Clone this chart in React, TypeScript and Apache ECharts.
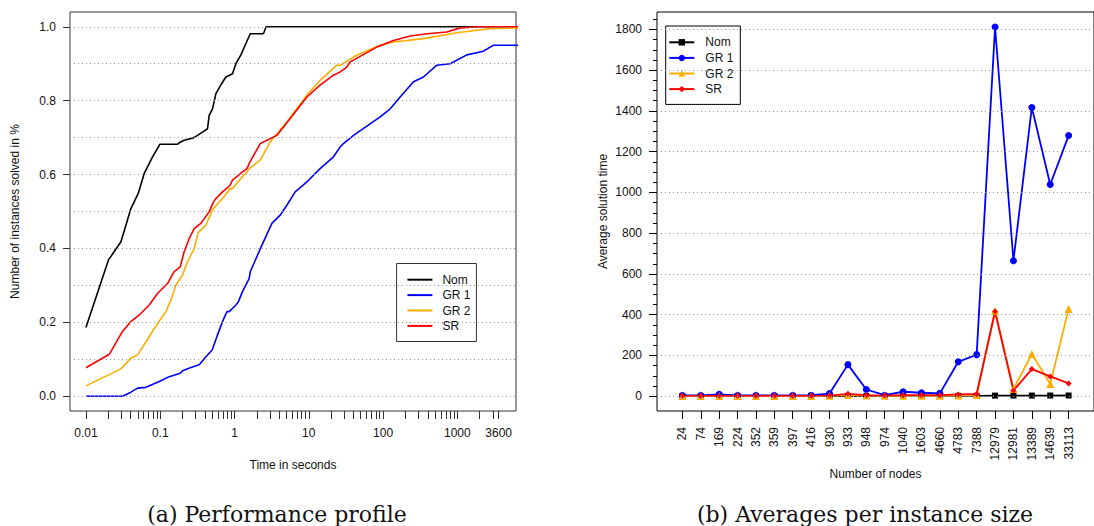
import React, { useEffect, useRef } from "react";
import * as echarts from "echarts";

// ---------- (a) Performance profile ----------
const timeLabelValues = [0.01, 0.1, 1, 10, 100, 1000, 3600];
const timeTickMultipliers = [1, 2, 3, 4, 5, 6, 7, 8, 9];
const timeTickDecades = [0.01, 0.1, 1, 10, 100];
const timeTickExtra = [1000, 2000, 3000, 3600];
const fractionLabels = [0, 0.2, 0.4, 0.6, 0.8, 1.0];
const fractionGrid = [0, 0.1, 0.2, 0.3, 0.4, 0.5, 0.6, 0.7, 0.8, 0.9, 1.0];

const nomProfile: [number, number][] = [
  [0.01, 0.186], [0.0201, 0.369], [0.0296, 0.418], [0.0403, 0.508], [0.0506, 0.549],
  [0.0609, 0.603], [0.0788, 0.648], [0.099, 0.682], [0.171, 0.682], [0.18, 0.686],
  [0.21, 0.693], [0.278, 0.699], [0.318, 0.706], [0.371, 0.715], [0.433, 0.724],
  [0.456, 0.76], [0.506, 0.778], [0.562, 0.819], [0.656, 0.843], [0.766, 0.864],
  [0.94, 0.873], [1.044, 0.9], [1.22, 0.924], [1.42, 0.954], [1.63, 0.981],
  [2.45, 0.981], [2.67, 1.0], [7200, 1.0],
];
const gr1Profile: [number, number][] = [
  [0.01, 0.0], [0.0311, 0.0], [0.0403, 0.011], [0.0495, 0.022], [0.0642, 0.024],
  [0.097, 0.04], [0.132, 0.053], [0.186, 0.062], [0.2, 0.069], [0.259, 0.078],
  [0.335, 0.085], [0.412, 0.107], [0.5, 0.125], [0.59, 0.166], [0.69, 0.202],
  [0.79, 0.229], [0.849, 0.229], [1.044, 0.247], [1.13, 0.256], [1.28, 0.283],
  [1.58, 0.319], [1.63, 0.337], [2.34, 0.409], [3.19, 0.468], [4.12, 0.49],
  [5.07, 0.517], [6.56, 0.553], [9.43, 0.58], [14.2, 0.616], [21.5, 0.648],
  [26.5, 0.675], [29.3, 0.684], [40, 0.706], [60.5, 0.731], [91.4, 0.756],
  [125, 0.778], [170, 0.81], [257, 0.851], [350, 0.864], [530, 0.896],
  [800, 0.9], [1343, 0.924], [2244, 0.934], [3060, 0.95], [7200, 0.95],
];
const gr2Profile: [number, number][] = [
  [0.01, 0.028], [0.0296, 0.074], [0.0403, 0.103], [0.0495, 0.112], [0.0711, 0.161],
  [0.092, 0.197], [0.119, 0.229], [0.139, 0.26], [0.163, 0.301], [0.186, 0.319],
  [0.2, 0.328], [0.233, 0.364], [0.287, 0.4], [0.325, 0.443], [0.412, 0.463],
  [0.506, 0.504], [0.521, 0.508], [0.69, 0.535], [0.875, 0.562], [0.94, 0.562],
  [1.28, 0.594], [1.47, 0.607], [1.58, 0.616], [2.22, 0.639], [3.02, 0.688],
  [5.07, 0.742], [9.43, 0.815], [14.2, 0.855], [23.9, 0.896], [26.5, 0.896],
  [40, 0.918], [44.4, 0.923], [82.5, 0.947], [138, 0.959], [350, 0.968],
  [985, 0.984], [2763, 0.995], [7200, 0.997],
];
const srProfile: [number, number][] = [
  [0.01, 0.077], [0.0206, 0.1135], [0.0305, 0.173], [0.0403, 0.202], [0.0522, 0.22],
  [0.0711, 0.247], [0.092, 0.278], [0.1254, 0.305], [0.154, 0.337], [0.186, 0.35],
  [0.21, 0.391], [0.246, 0.427], [0.287, 0.454], [0.353, 0.468], [0.456, 0.499],
  [0.521, 0.526], [0.562, 0.535], [0.69, 0.553], [0.875, 0.571], [0.94, 0.585],
  [1.28, 0.607], [1.47, 0.616], [1.58, 0.63], [2.22, 0.684], [3.72, 0.706],
  [5.62, 0.752], [9.43, 0.81], [14.2, 0.842], [21.5, 0.869], [26.5, 0.878],
  [32.6, 0.891], [36.1, 0.905], [49.2, 0.92], [82.5, 0.945], [138, 0.963],
  [232, 0.975], [389, 0.981], [722, 0.986], [1091, 0.997], [1950, 1.0], [7200, 1.0],
];

// ---------- (b) Averages per instance size ----------
const nodeCategories = [
  "24", "74", "169", "224", "352", "359", "397", "416", "930", "933", "948",
  "974", "1040", "1603", "4660", "4783", "7388", "12979", "12981", "13389", "14639", "33113",
];
const nomAverages = [0.2, 0.3, 0.4, 0.5, 0.6, 0.6, 0.7, 0.8, 1.0, 1.1, 1.1, 1.2, 1.3, 1.5, 1.7, 1.9, 2.0, 3.1, 3.2, 3.3, 3.4, 3.6];
const gr1Averages = [4, 4, 9, 4, 4, 4, 4, 5, 13, 155, 33, 5, 22, 17, 14, 169, 204, 1812, 665, 1417, 1039, 1279];
const gr2Averages = [1, 1, 1, 1, 1, 1, 1, 1, 2, 6, 3, 2, 2, 2, 2, 4, 6, 418, 35, 207, 60, 428];
const srAverages = [2, 2, 2, 2, 2, 2, 2, 2, 3, 12, 5, 3, 5, 5, 5, 9, 11, 416, 28, 133, 97, 63];
const avgLabels = [0, 200, 400, 600, 800, 1000, 1200, 1400, 1600, 1800];
const avgMinorTicks = [
  0, 50, 100, 150, 200, 250, 300, 350, 400, 450, 500, 550, 600, 650, 700, 750, 800, 850, 900, 950,
  1000, 1050, 1100, 1150, 1200, 1250, 1300, 1350, 1400, 1450, 1500, 1550, 1600, 1650, 1700, 1750, 1800, 1850,
];

const seriesNames = ["Nom", "GR 1", "GR 2", "SR"];
const seriesColors = ["#000000", "#0000ff", "#ffad00", "#ff0000"];

const SANS = "Liberation Sans, Arial, sans-serif";
const SERIF = "DejaVu Serif, serif";

export default function App() {
  const ref = useRef<HTMLDivElement>(null);
  useEffect(() => {
    if (!ref.current) return;
    const chart = echarts.init(ref.current, undefined, { renderer: "svg" });

    const timeTicks: number[] = [];
    timeTickDecades.forEach((d) => timeTickMultipliers.forEach((m) => timeTicks.push(+(d * m).toPrecision(6))));
    timeTickExtra.forEach((v) => timeTicks.push(v));
    const catIdx = nodeCategories.map((_, i) => i);

    const axisText = { fontFamily: SANS, fontSize: 12, color: "#111" };
    const gridLineStyle = { color: "#9a9a9a", width: 1, type: [1, 3] as any };

    const profiles = [nomProfile, gr1Profile, gr2Profile, srProfile];
    const averages = [nomAverages, gr1Averages, gr2Averages, srAverages];
    const symbols = ["rect", "circle", "triangle", "diamond"];
    const symbolSizes = [6, 7, 8, 6];

    const series: any[] = [
      {
        type: "line",
        xAxisIndex: 0,
        yAxisIndex: 0,
        data: [],
        z: 1,
        silent: true,
        markLine: {
          silent: true,
          symbol: "none",
          label: { show: false },
          lineStyle: gridLineStyle,
          data: fractionGrid.map((v) => ({ yAxis: v })),
        },
      },
      {
        type: "line",
        xAxisIndex: 1,
        yAxisIndex: 1,
        data: [],
        z: 1,
        silent: true,
        markLine: {
          silent: true,
          symbol: "none",
          label: { show: false },
          lineStyle: gridLineStyle,
          data: avgLabels.map((v) => ({ yAxis: v })),
        },
      },
    ];
    profiles.forEach((p, k) => {
      series.push({
        name: seriesNames[k],
        type: "line",
        xAxisIndex: 0,
        yAxisIndex: 0,
        data: p,
        symbol: "none",
        showSymbol: false,
        clip: true,
        z: 3,
        color: seriesColors[k],
        itemStyle: { color: seriesColors[k] },
        lineStyle: { color: seriesColors[k], width: 1.6 },
      });
    });
    averages.forEach((vals, k) => {
      series.push({
        name: "b:" + seriesNames[k],
        type: "line",
        xAxisIndex: 1,
        yAxisIndex: 1,
        data: vals.map((v, i) => [i, v]),
        symbol: symbols[k],
        symbolSize: symbolSizes[k],
        showSymbol: true,
        z: 3,
        color: seriesColors[k],
        itemStyle: { color: seriesColors[k] },
        lineStyle: { color: seriesColors[k], width: 1.8 },
      });
    });

    chart.setOption({
      animation: false,
      backgroundColor: "#ffffff",
      grid: [
        { left: 70, top: 12, width: 446, height: 399, show: true, borderColor: "#333", borderWidth: 1, backgroundColor: "transparent" },
        { left: 657, top: 12, width: 445.6, height: 399, show: true, borderColor: "#000", borderWidth: 1, backgroundColor: "transparent" },
      ],
      xAxis: [
        {
          type: "log",
          gridIndex: 0,
          logBase: 10,
          min: 0.0061,
          max: 6166,
          position: "bottom",
          axisLine: { show: false, onZero: false },
          splitLine: { show: false },
          axisTick: { show: true, inside: false, length: 8, customValues: timeTicks, lineStyle: { color: "#333" } },
          axisLabel: { ...axisText, margin: 16, customValues: timeLabelValues, formatter: (v: number) => String(v) },
          name: "Time in seconds",
          nameLocation: "middle",
          nameGap: 48,
          nameTextStyle: { ...axisText },
        },
        {
          type: "value",
          gridIndex: 1,
          min: -1.38,
          max: 22.38,
          position: "bottom",
          axisLine: { show: false, onZero: false },
          splitLine: { show: false },
          axisTick: { show: true, inside: false, length: 8, customValues: catIdx, lineStyle: { color: "#000" } },
          axisLabel: {
            ...axisText,
            margin: 16,
            rotate: 90,
            customValues: catIdx,
            formatter: (v: number) => nodeCategories[Math.round(v)] ?? "",
          },
          name: "Number of nodes",
          nameLocation: "middle",
          nameGap: 48,
          nameTextStyle: { ...axisText },
        },
      ],
      yAxis: [
        {
          type: "value",
          gridIndex: 0,
          min: -0.04,
          max: 1.04,
          position: "left",
          axisLine: { show: false, onZero: false },
          splitLine: { show: false },
          axisTick: { show: true, inside: false, length: 7, customValues: fractionLabels, lineStyle: { color: "#333" } },
          axisLabel: { ...axisText, margin: 14, customValues: fractionLabels, formatter: (v: number) => v.toFixed(1) },
          name: "Number of instances solved in %",
          nameLocation: "middle",
          nameGap: 49,
          nameTextStyle: { ...axisText },
        },
        {
          type: "value",
          gridIndex: 1,
          min: -72.5,
          max: 1885.5,
          position: "left",
          axisLine: { show: false, onZero: false },
          splitLine: { show: false },
          axisTick: { show: true, inside: false, length: 8, customValues: avgLabels, lineStyle: { color: "#000" } },
          axisLabel: { ...axisText, margin: 15, customValues: avgLabels, formatter: (v: number) => String(v) },
          name: "Average solution time",
          nameLocation: "middle",
          nameGap: 48,
          nameTextStyle: { ...axisText },
        },
        {
          type: "value",
          gridIndex: 1,
          position: "left",
          offset: 0,
          min: -72.5,
          max: 1885.5,
          axisLine: { show: false, onZero: false },
          splitLine: { show: false },
          axisTick: { show: true, inside: false, length: 4, customValues: avgMinorTicks, lineStyle: { color: "#000" } },
          axisLabel: { show: false },
        },
      ],
      legend: [
        {
          orient: "vertical",
          left: 396.6,
          top: 263.5,
          padding: [10.2, 6, 9.6, 10.8],
          itemWidth: 25,
          itemHeight: 2,
          itemGap: 3.4,
          icon: "rect",
          borderColor: "#333",
          borderWidth: 1,
          borderRadius: 0,
          backgroundColor: "#ffffff",
          data: seriesNames,
          textStyle: { fontFamily: SANS, fontSize: 12, color: "#111", padding: [0, 0, 0, 5] },
        },
        {
          orient: "vertical",
          left: 665.7,
          top: 26,
          padding: [10.3, 7, 9.3, 2.6],
          itemWidth: 25,
          itemHeight: 8,
          itemGap: 3.6,
          borderColor: "#000",
          borderWidth: 1,
          borderRadius: 0,
          backgroundColor: "#ffffff",
          data: seriesNames.map((n) => "b:" + n),
          formatter: (n: string) => n.slice(2),
          textStyle: { fontFamily: SANS, fontSize: 12, color: "#111", padding: [0, 0, 0, 6] },
        },
      ],
      graphic: [
        {
          type: "text",
          x: 277,
          y: 514,
          style: { text: "(a) Performance profile", font: `22px ${SERIF}`, fill: "#111", align: "center", verticalAlign: "middle" },
        },
        {
          type: "text",
          x: 865,
          y: 514,
          style: { text: "(b) Averages per instance size", font: `22px ${SERIF}`, fill: "#111", align: "center", verticalAlign: "middle" },
        },
      ],
      series,
    });
    return () => chart.dispose();
  }, []);
  return <div ref={ref} style={{ position: "absolute", left: 0, top: 0, width: 1094, height: 526 }} />;
}
